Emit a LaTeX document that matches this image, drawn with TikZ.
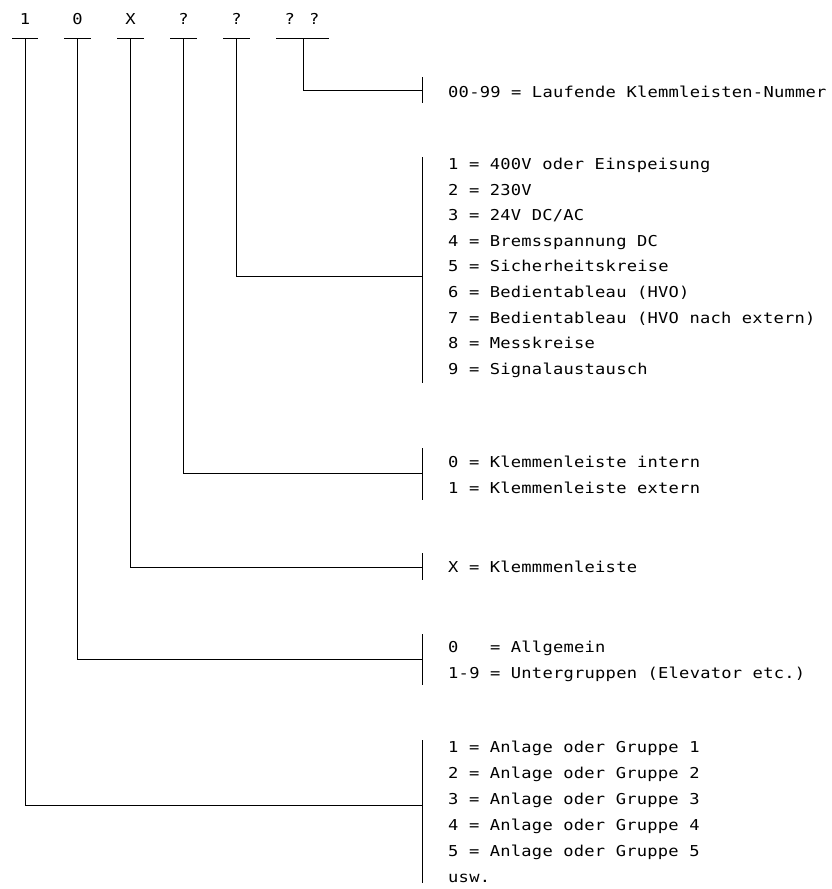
\documentclass[tikz,border=0pt]{standalone}
\usepackage{fontspec}
\newfontfamily\monofam{DejaVu Sans Mono}[FakeStretch=1.14,LetterSpace=1.6]
\begin{document}
\begin{tikzpicture}[x=1pt,y=-1pt,
  line/.style={draw=black,line width=1pt},
  hlabel/.style={inner sep=0pt,anchor=base,font=\monofam\fontsize{15}{15}\selectfont},
  item/.style={inner sep=0pt,anchor=base west,font=\monofam\fontsize{15}{15}\selectfont}]
\useasboundingbox (0,0) rectangle (832,889);
% header labels
\node[hlabel] (h1) at (25,24) {1};
\node[hlabel] (h2) at (77.5,24) {0};
\node[hlabel] (h3) at (130.5,24) {X};
\node[hlabel] (h4) at (183.5,24) {?};
\node[hlabel] (h5) at (236.5,24) {?};
\node[hlabel] (h6) at (302,24) {? ?};
% bars
\coordinate (b1l) at (12,38);  \coordinate (b1r) at (38,38);
\coordinate (b2l) at (64,38);  \coordinate (b2r) at (91,38);
\coordinate (b3l) at (117,38); \coordinate (b3r) at (144,38);
\coordinate (b4l) at (170,38); \coordinate (b4r) at (197,38);
\coordinate (b5l) at (223,38); \coordinate (b5r) at (250,38);
\coordinate (b6l) at (276,38); \coordinate (b6r) at (329,38);
\foreach \i in {1,...,6} {\draw[line] (b\i l) -- (b\i r);}
% stem tops
\coordinate (s1) at (25,38);
\coordinate (s2) at (77.5,38);
\coordinate (s3) at (130.5,38);
\coordinate (s4) at (183.5,38);
\coordinate (s5) at (236.5,38);
\coordinate (s6) at (303,38);
% bracket joints
\coordinate (j6) at (422,90);
\coordinate (j5) at (422,276);
\coordinate (j4) at (422,473);
\coordinate (j3) at (422,567);
\coordinate (j2) at (422,659);
\coordinate (j1) at (422,805);
\foreach \i in {1,...,6} {\draw[line] (s\i) |- (j\i);}
% brackets
\coordinate (t6) at (422,77);  \coordinate (u6) at (422,103);
\coordinate (t5) at (422,157); \coordinate (u5) at (422,383);
\coordinate (t4) at (422,448); \coordinate (u4) at (422,500);
\coordinate (t3) at (422,553); \coordinate (u3) at (422,580);
\coordinate (t2) at (422,634); \coordinate (u2) at (422,685);
\coordinate (t1) at (422,740); \coordinate (u1) at (422,883);
\foreach \i in {1,...,6} {\draw[line] (t\i) -- (u\i);}
% texts
\node[item] (g6a) at (448,97.5) {00-99 = Laufende Klemmleisten-Nummer};
\node[item] (g5a) at (448,169.5) {1 = 400V oder Einspeisung};
\node[item] (g5b) at (448,195.1) {2 = 230V};
\node[item] (g5c) at (448,220.7) {3 = 24V DC/AC};
\node[item] (g5d) at (448,246.3) {4 = Bremsspannung DC};
\node[item] (g5e) at (448,271.9) {5 = Sicherheitskreise};
\node[item] (g5f) at (448,297.5) {6 = Bedientableau (HVO)};
\node[item] (g5g) at (448,323.1) {7 = Bedientableau (HVO nach extern)};
\node[item] (g5h) at (448,348.7) {8 = Messkreise};
\node[item] (g5i) at (448,374.3) {9 = Signalaustausch};
\node[item] (g4a) at (448,467.5) {0 = Klemmenleiste intern};
\node[item] (g4b) at (448,493.5) {1 = Klemmenleiste extern};
\node[item] (g3a) at (448,572.5) {X = Klemmmenleiste};
\node[item] (g2a) at (448,652.5) {0\ \ \ = Allgemein};
\node[item] (g2b) at (448,678.5) {1-9 = Untergruppen (Elevator etc.)};
\node[item] (g1a) at (448,752.5) {1 = Anlage oder Gruppe 1};
\node[item] (g1b) at (448,778.5) {2 = Anlage oder Gruppe 2};
\node[item] (g1c) at (448,804.5) {3 = Anlage oder Gruppe 3};
\node[item] (g1d) at (448,830.5) {4 = Anlage oder Gruppe 4};
\node[item] (g1e) at (448,856.5) {5 = Anlage oder Gruppe 5};
\node[item] (g1f) at (448,882.5) {usw.};
\end{tikzpicture}
\end{document}
